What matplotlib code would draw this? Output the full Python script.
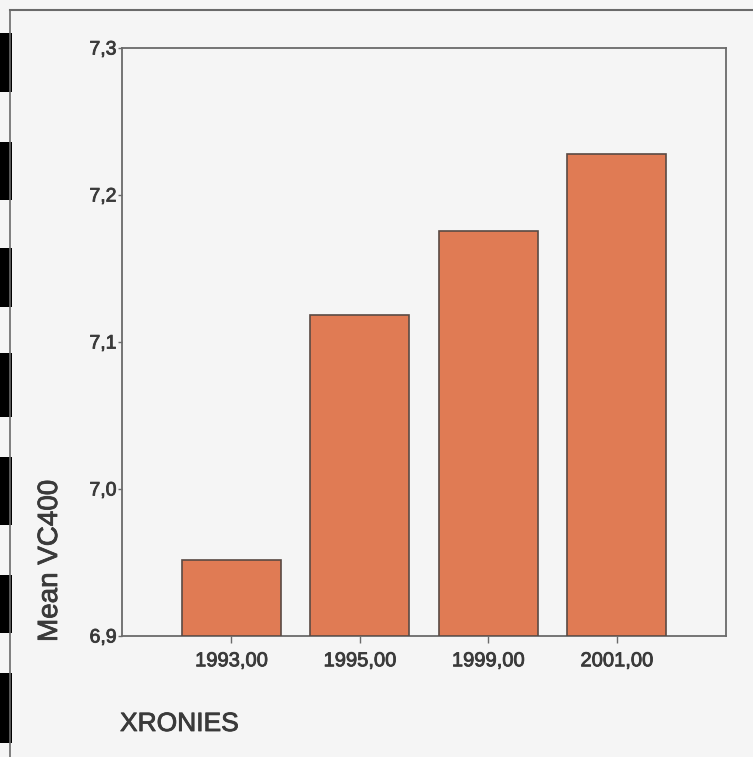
import matplotlib
matplotlib.use("Agg")
import matplotlib.pyplot as plt
import matplotlib.patheffects as pe
from matplotlib.lines import Line2D
from matplotlib.patches import Rectangle

categories = ["1993,00", "1995,00", "1999,00", "2001,00"]
values = [6.9514, 7.1184, 7.1755, 7.2282]
yticks = [6.9, 7.0, 7.1, 7.2, 7.3]
ytick_labels = ["6,9", "7,0", "7,1", "7,2", "7,3"]

W, H = 753, 757
bg = "#f5f5f5"
fig = plt.figure(figsize=(W / 100, H / 100), dpi=100, facecolor=bg)
plt.rcParams['font.family'] = ['Liberation Sans', 'DejaVu Sans']
txtc = "#3a3a3a"
bold = [pe.withStroke(linewidth=0.6, foreground=txtc)]

# axes: left 122, right 726, top 48, bottom 636 (pixels)
ax = fig.add_axes([122 / W, 1 - 636 / H, (726 - 122) / W, (636 - 48) / H])
ax.set_facecolor(bg)
x = list(range(len(categories)))
ax.bar(x, [v - 6.9 for v in values], bottom=6.9, width=0.77,
       color="#e07b54", edgecolor="#5a4a44", linewidth=1.2, zorder=3)
ax.set_xlim(-0.852, 3.852)
ax.set_ylim(6.9, 7.3)
ax.set_yticks(yticks)
ax.set_yticklabels(ytick_labels)
ax.set_xticks(x)
ax.set_xticklabels(categories)
for s in ax.spines.values():
    s.set_color("#6a6a6a")
    s.set_linewidth(1.3)
ax.tick_params(axis="y", length=3, width=1, color="#6a6a6a", labelsize=14,
               labelcolor=txtc, pad=1)
ax.tick_params(axis="x", length=5, width=1, color="#6a6a6a", labelsize=14.5,
               labelcolor=txtc, pad=6)
for lab in ax.get_xticklabels() + ax.get_yticklabels():
    lab.set_path_effects(bold)

fig.text(120 / W, 1 - 724 / H, "XRONIES", fontsize=19, color=txtc,
         ha="left", va="center", path_effects=bold)
fig.text(50 / W, 1 - 561 / H, "Mean VC400", fontsize=20, color=txtc,
         ha="center", va="center", rotation=90, path_effects=bold)

# page decorations (scan frame)
fig.add_artist(Line2D([10 / W, 1], [1 - 10 / H, 1 - 10 / H], color="#6a6a6a", lw=1.5))
fig.add_artist(Line2D([10 / W, 10 / W], [0, 1 - 10 / H], color="#6a6a6a", lw=1.2))
dashes = [(33, 92), (142, 200), (248, 307), (353, 417), (457, 525), (575, 633), (673, 743)]
for y0, y1 in dashes:
    fig.add_artist(Rectangle((0, 1 - y1 / H), 12 / W, (y1 - y0) / H,
                             transform=fig.transFigure, color="black", lw=0))

fig.savefig("out.png", dpi=100, facecolor=bg)
